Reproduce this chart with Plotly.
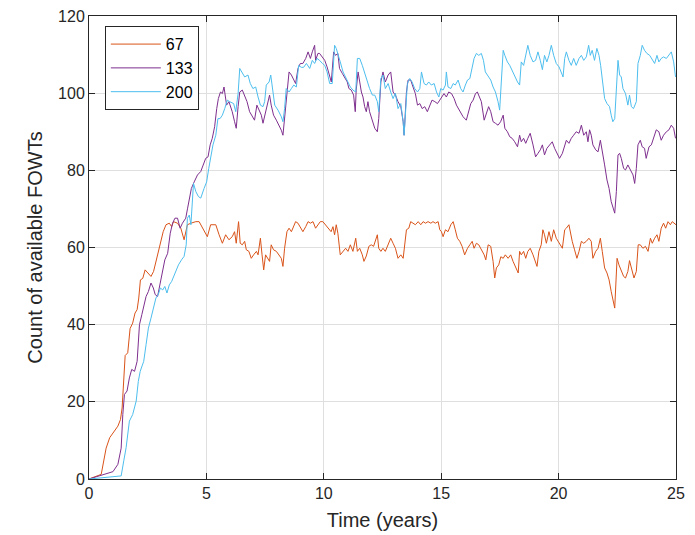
import plotly.graph_objects as go

# ---- data ----
t_67 = [0, 0.52, 0.73, 0.88, 1.23, 1.34, 1.41, 1.48, 1.54, 1.65, 1.75, 1.86, 1.96, 2.05, 2.12, 2.19, 2.29, 2.39, 2.5, 2.64,
        2.75, 2.85, 2.95, 3.06, 3.16, 3.28, 3.42, 3.52, 3.6, 3.77, 3.91, 4.05, 4.19, 4.34, 4.55, 4.69, 4.9, 5.04, 5.18, 5.4,
        5.54, 5.68, 5.82, 5.96, 6.1, 6.2, 6.27, 6.37, 6.44, 6.53, 6.63, 6.7, 6.81, 6.91, 7.01, 7.13, 7.2, 7.3, 7.37, 7.44,
        7.52, 7.62, 7.69, 7.76, 7.86, 7.98, 8.09, 8.19, 8.26, 8.33, 8.43, 8.52, 8.62, 8.72, 8.8, 8.9, 9.0, 9.11, 9.23, 9.33,
        9.43, 9.54, 9.65, 9.75, 9.85, 9.96, 10.08, 10.19, 10.31, 10.39, 10.46, 10.53, 10.6, 10.7, 10.82, 10.93, 11.03, 11.13,
        11.24, 11.36, 11.43, 11.53, 11.64, 11.71, 11.81, 11.92, 12.02, 12.12, 12.28, 12.34, 12.43, 12.52, 12.62, 12.74, 12.85,
        12.95, 13.05, 13.16, 13.28, 13.38, 13.45, 13.52, 13.62, 13.7, 13.8, 13.9, 14.02, 14.13, 14.23, 14.33, 14.44, 14.56,
        14.65, 14.75, 14.87, 14.94, 15.01, 15.08, 15.18, 15.29, 15.41, 15.51, 15.6, 15.69, 15.79, 15.89, 16.0, 16.12, 16.22,
        16.32, 16.4, 16.5, 16.6, 16.71, 16.83, 16.9, 17.0, 17.11, 17.21, 17.28, 17.35, 17.45, 17.54, 17.64, 17.73, 17.85,
        17.96, 18.06, 18.16, 18.28, 18.34, 18.41, 18.51, 18.6, 18.69, 18.79, 18.91, 19.02, 19.08, 19.16, 19.26, 19.33, 19.4,
        19.48, 19.59, 19.69, 19.79, 19.9, 20.02, 20.16, 20.26, 20.33, 20.44, 20.5, 20.58, 20.68, 20.78, 20.87, 20.97, 21.07,
        21.18, 21.29, 21.39, 21.46, 21.58, 21.68, 21.78, 21.86, 21.96, 22.06, 22.15, 22.24, 22.31, 22.39, 22.43, 22.49, 22.57,
        22.67, 22.77, 22.85, 22.95, 23.02, 23.12, 23.21, 23.31, 23.39, 23.48, 23.59, 23.7, 23.81, 23.91, 23.99, 24.09, 24.19,
        24.27, 24.37, 24.47, 24.56, 24.66, 24.76, 24.84, 24.94, 25.0]
v_67 = [0, 1.2, 8, 10.7, 13.7, 15.4, 18.4, 25, 32, 32.7, 39, 40.4, 43, 43.9, 46.9, 51.6, 52, 54.2, 53.4, 52.5,
        53.8, 56.4, 58.5, 62, 64.1, 65.9, 66.3, 65.4, 66.7, 66.3, 65, 62, 65.9, 66.3, 66.7, 66.7, 64.1, 62.8, 65.9, 65.9,
        63.3, 61.1, 63.3, 62, 62.8, 64.1, 61.1, 66.7, 61.1, 60.7, 61.6, 59.4, 59, 57.2, 58.1, 59, 58.1, 62.4, 58.1, 54.2,
        58.1, 57.2, 56.4, 60.7, 59.4, 59, 58.1, 57.2, 55.1, 59.8, 64.1, 65, 64.1, 65.4, 66.7, 66.3, 65.4, 64.1, 65.4, 66.7,
        66.3, 66.7, 65, 65.9, 66.7, 66.7, 65.9, 65, 64.1, 65.4, 63.3, 65.9, 63.7, 58.1, 59, 59.8, 59, 60.7,
        59, 62.4, 59, 59.8, 58.1, 56.4, 57.8, 60.3, 60.7, 60.3, 63.3, 59.8, 59, 59.8, 59, 60.7, 62.4,
        61.1, 59.8, 57.2, 58.1, 57.2, 61.6, 64.6, 65, 66.7, 66.3, 65.9, 66.7, 65.9, 66.7, 66.3, 66.7, 66.3,
        66.7, 66.3, 66.7, 64.6, 64.1, 62.8, 64.6, 64.1, 65.9, 66.7, 64.6, 62.4, 61.6, 60.3, 58.1, 59.8, 60.7,
        61.6, 59.8, 61.1, 60.7, 59.4, 58.1, 56.8, 60.7, 60.3, 56.4, 52.1, 54.7, 55.5, 57.6, 57.2, 58.1, 57.2,
        58.1, 56.4, 55.1, 53.4, 59, 58.1, 59, 57.2, 59, 59.8, 58.1, 56.4, 55.1, 59, 60.7, 64.6, 63.3,
        61.1, 64.1, 61.6, 64.6, 62.4, 61.1, 59.8, 64.6, 65, 65.9, 63.7, 61.6, 59.4, 57.2, 59, 61.6, 61.1,
        61.6, 62.4, 61.6, 57.2, 59, 59.8, 62.4, 59, 54.7, 53.4, 51.6, 48.6, 46.9, 44.3, 49.5, 57.2, 55.5,
        54.2, 52.5, 52.1, 53.8, 56.6, 54.2, 52.1, 53.8, 60.7, 60.7, 59.8, 60.3, 59, 62.4, 61.1, 62.4, 63.3,
        61.6, 65, 66.3, 65, 66.7, 65.9, 66.7, 66.3, 65.9]

t_133 = [0, 1.02, 1.23, 1.37, 1.44, 1.51, 1.62, 1.72, 1.82, 1.94, 2.05, 2.15, 2.25, 2.33, 2.43, 2.53, 2.64, 2.74, 2.82, 2.92,
         3.04, 3.14, 3.23, 3.35, 3.46, 3.56, 3.66, 3.77, 3.88, 3.98, 4.12, 4.2, 4.28, 4.36, 4.48, 4.62, 4.76, 4.87, 4.97, 5.07,
         5.16, 5.25, 5.35, 5.44, 5.51, 5.6, 5.68, 5.75, 5.86, 5.96, 6.1, 6.2, 6.27, 6.35, 6.42, 6.53, 6.63, 6.73, 6.84, 6.96,
         7.05, 7.15, 7.27, 7.34, 7.41, 7.52, 7.62, 7.69, 7.76, 7.86, 7.98, 8.09, 8.19, 8.26, 8.33, 8.43, 8.52, 8.62, 8.72, 8.8,
         8.9, 9.0, 9.11, 9.23, 9.33, 9.43, 9.51, 9.61, 9.65, 9.75, 9.82, 9.94, 10.04, 10.14, 10.25, 10.32, 10.42, 10.5, 10.6,
         10.67, 10.79, 10.89, 11.0, 11.07, 11.17, 11.27, 11.34, 11.38, 11.46, 11.53, 11.6, 11.67, 11.74, 11.81, 11.88, 11.95,
         12.02, 12.09, 12.17, 12.28, 12.34, 12.43, 12.52, 12.62, 12.74, 12.85, 12.95, 13.05, 13.16, 13.28, 13.38, 13.42,
         13.52, 13.59, 13.7, 13.8, 13.9, 13.99, 14.09, 14.19, 14.3, 14.41, 14.51, 14.61, 14.73, 14.84, 14.94, 15.01, 15.12,
         15.22, 15.32, 15.44, 15.55, 15.65, 15.79, 15.93, 16.07, 16.17, 16.26, 16.36, 16.46, 16.54, 16.64, 16.71, 16.83,
         16.93, 17.02, 17.11, 17.21, 17.31, 17.42, 17.53, 17.64, 17.71, 17.82, 17.92, 18.02, 18.13, 18.25, 18.34, 18.41,
         18.51, 18.6, 18.69, 18.79, 18.91, 19.02, 19.12, 19.22, 19.31, 19.4, 19.5, 19.62, 19.73, 19.83, 19.93, 20.04, 20.16,
         20.26, 20.33, 20.44, 20.54, 20.64, 20.75, 20.87, 20.97, 21.07, 21.18, 21.25, 21.32, 21.39, 21.46, 21.58, 21.68,
         21.78, 21.86, 21.96, 22.06, 22.15, 22.24, 22.31, 22.39, 22.46, 22.53, 22.6, 22.67, 22.77, 22.85, 22.95, 23.05,
         23.17, 23.24, 23.31, 23.38, 23.48, 23.56, 23.66, 23.73, 23.85, 23.95, 24.05, 24.16, 24.27, 24.37, 24.47, 24.59,
         24.7, 24.8, 24.9, 24.98]
v_133 = [0, 1.9, 3.8, 8, 16.7, 21.9, 22.8, 26.2, 28.4, 27.9, 30.5, 40, 42.6, 44.7, 47.3, 48.6, 50.8, 49.5, 47.8, 47.3,
         50.8, 53.8, 56.8, 58.5, 63.7, 66.3, 67.6, 67.6, 65, 66.3, 67.6, 70.2, 72.8, 75.3, 77, 78.8, 79.7, 81.4, 83.1, 83.5,
         86.6, 88.3, 91.3, 96, 98.6, 100.3, 99.9, 101.6, 96.9, 97.8, 95.2, 92.6, 90.9, 96.5, 100.3, 100.8, 99.5, 97.8, 95.2, 93.9,
         93, 96.9, 95.2, 94.3, 92.2, 95.2, 97.8, 99.5, 96.9, 94.3, 93, 91.7, 90.4, 89.1, 93.4, 99.9, 105.5, 104.7, 103.4, 102.5,
         106.4, 107.7, 107.7, 109, 110.7, 109, 110.7, 112.4, 108.5, 110.3, 110.3, 109.4, 108.5, 106.8, 104.7, 102.9, 110.7, 109.8, 110.3,
         106.4, 105.1, 104.2, 102.9, 101.2, 100.8, 99.5, 95.2, 100.8, 105.5, 102.9, 100.3, 99, 96.5, 95.2, 97.8, 95.2,
         93.9, 92.6, 90.9, 90, 93.4, 102.9, 105.5, 102.9, 104.7, 105.5, 100.3, 99.5, 97.8, 96.5, 92.6, 89.1,
         100.3, 103.4, 103.4, 101.6, 99.9, 96.9, 97.3, 96, 96.5, 95.2, 96.9, 98.2, 97.8, 97.3, 98.2, 99, 99.9,
         99, 100.3, 99.9, 98.6, 96.9, 95.2, 93.9, 93, 95.6, 97.3, 98.2, 99.9, 100.3, 99, 97.8, 93,
         94.7, 96.5, 95.2, 92.6, 92.2, 91.7, 92.6, 94.3, 90.9, 90, 88.7, 88.3, 87.4, 86.1, 89.1, 87.4,
         88.3, 87, 88.3, 89.6, 86.6, 83.5, 84.4, 85.3, 86.6, 84, 85.7, 86.6, 87.4, 85.7, 84.4, 83.1, 84.4,
         86.6, 87.8, 87, 88.3, 89.1, 90, 89.6, 91.7, 89.1, 90, 87.4, 90.5, 89.1, 86.6, 85.3, 84.8,
         87.8, 84.4, 81.4, 77.5, 75.3, 71.9, 70.2, 68.9, 74.5, 84, 84.4, 83.1, 80.5, 80.1, 81.4, 80.1,
         78.8, 76.6, 80.5, 86.6, 87.8, 86.1, 85.7, 83.1, 86.1, 86.6, 88.3, 90.5, 90, 87.8, 89.1, 90,
         90.5, 91.7, 90.9, 88.3]

t_200 = [0, 1.37, 1.48, 1.58, 1.72, 1.86, 2.01, 2.1, 2.18, 2.25, 2.33, 2.43, 2.53, 2.64, 2.74, 2.85, 2.95, 3.04, 3.14, 3.23,
         3.32, 3.42, 3.52, 3.6, 3.7, 3.81, 3.94, 4.05, 4.14, 4.19, 4.27, 4.34, 4.45, 4.55, 4.66, 4.76, 4.9, 5.01, 5.1, 5.18,
         5.28, 5.4, 5.49, 5.58, 5.68, 5.78, 5.89, 5.99, 6.16, 6.25, 6.35, 6.42, 6.53, 6.63, 6.77, 6.87, 6.98, 7.1, 7.2, 7.3,
         7.41, 7.48, 7.55, 7.67, 7.74, 7.81, 7.91, 8.05, 8.19, 8.26, 8.33, 8.4, 8.52, 8.62, 8.72, 8.83, 8.93, 9.04, 9.14, 9.26,
         9.4, 9.51, 9.61, 9.71, 9.82, 9.94, 10.04, 10.14, 10.25, 10.36, 10.46, 10.53, 10.6, 10.7, 10.82, 10.93, 11.03, 11.13,
         11.24, 11.36, 11.43, 11.53, 11.64, 11.74, 11.84, 11.95, 12.07, 12.17, 12.28, 12.34, 12.43, 12.52, 12.62, 12.74,
         12.85, 12.95, 13.05, 13.16, 13.28, 13.38, 13.42, 13.48, 13.56, 13.66, 13.76, 13.87, 13.99, 14.09, 14.16, 14.27,
         14.37, 14.47, 14.58, 14.7, 14.8, 14.9, 14.98, 15.08, 15.18, 15.22, 15.29, 15.41, 15.51, 15.6, 15.72, 15.83, 15.93,
         16.03, 16.12, 16.22, 16.32, 16.4, 16.5, 16.6, 16.71, 16.8, 16.88, 17.0, 17.11, 17.21, 17.31, 17.42, 17.49, 17.56,
         17.64, 17.71, 17.82, 17.92, 18.02, 18.13, 18.25, 18.34, 18.41, 18.51, 18.6, 18.69, 18.79, 18.91, 19.02, 19.12,
         19.22, 19.31, 19.4, 19.5, 19.59, 19.69, 19.79, 19.9, 20.02, 20.11, 20.19, 20.26, 20.33, 20.44, 20.54, 20.64, 20.75,
         20.87, 20.97, 21.07, 21.18, 21.28, 21.35, 21.43, 21.53, 21.63, 21.72, 21.79, 21.86, 21.96, 22.06, 22.17, 22.24,
         22.31, 22.39, 22.46, 22.53, 22.6, 22.67, 22.74, 22.85, 22.95, 23.02, 23.1, 23.19, 23.31, 23.38, 23.48, 23.56,
         23.66, 23.76, 23.88, 23.99, 24.09, 24.19, 24.27, 24.37, 24.47, 24.59, 24.7, 24.8, 24.9, 24.98]
v_200 = [0, 0.8, 4.7, 8.1, 15, 16.7, 20.2, 25.3, 27.9, 29.2, 30.5, 34.8, 39.1, 41.7, 44.3, 46.9, 47.8, 49.5, 49, 49.9,
         48.2, 50.3, 51.2, 52.5, 53.8, 55.5, 56.8, 57.7, 60.7, 67.6, 68.4, 65.9, 76.6, 74.5, 73.2, 72.8, 75.3, 77, 80.5, 83.1,
         86.6, 89.1, 93.4, 93.4, 94.3, 96, 98.2, 97.8, 97.3, 95.2, 99.9, 106.4, 105.1, 104.2, 104.7, 102.5, 101.2, 101.6, 99, 96.9,
         96.5, 97.8, 102.1, 102.9, 104.7, 101.2, 96.9, 95.6, 93.9, 92.6, 96, 101.2, 100.3, 101.2, 102.1, 101.6, 107.2, 106.7, 106.7, 107.7,
         106.4, 108.5, 107.7, 109, 108.5, 107.7, 107.2, 105.5, 102.5, 102.5, 112.4, 111.6, 110.3, 108.1, 105.5, 104.2, 102.9, 101.6,
         100.8, 100.3, 109, 109, 107.2, 105.1, 103.4, 101.2, 99.5, 99.5, 97.8, 95.2, 103.8, 104.7, 101.2, 102.5,
         100.3, 98.6, 100, 96, 97.3, 92.6, 89.1, 94.3, 102.5, 103.8, 102.9, 101.2, 100.3, 101.2, 105.5, 102.5,
         102.1, 102.9, 102.1, 102.5, 100.3, 99, 101.2, 100.8, 102.1, 105.5, 101.6, 101.2, 102.5, 102.1, 103.4, 101.2, 100.3,
         102.1, 103.4, 103.8, 106.4, 109, 110.3, 109.8, 110.3, 108.5, 105.5, 104.2, 103.4, 101.6, 100.3, 97.8, 95.6, 102.9,
         111.1, 109.8, 108.1, 107.2, 105.9, 104.2, 102.9, 102.1, 108.1, 107.2, 109.8, 112.4, 109.8, 108.1, 108.5, 110.7,
         108.5, 106.1, 109.8, 108.1, 109.8, 112.4, 109.8, 107.7, 106.8, 105.5, 104.2, 109, 110.7, 108.5, 107.2, 109, 107.2,
         109, 109.8, 108.5, 109.4, 112.4, 109.8, 111.1, 108.5, 111.6, 109.8, 107.2, 102.9, 98.6, 97.3, 96.5, 94.3,
         92.6, 93.4, 102.9, 108.5, 104.7, 104.2, 101.2, 99.9, 96.9, 99.5, 96.5, 96, 97.8, 107.7, 109.8, 112.4,
         111.1, 110.3, 109.8, 108.5, 107.7, 109.8, 108.1, 109, 109.4, 109, 109.8, 110.7, 108.1, 104.2]

series_names = ["67", "133", "200"]
series_colors = ["#D95319", "#7E2F8E", "#4DBEEE"]
x_ticks = [0, 5, 10, 15, 20, 25]
y_ticks = [0, 20, 40, 60, 80, 100, 120]

FONT = "Liberation Sans, Arial, sans-serif"

fig = go.Figure()
for name, color, t, v in zip(series_names, series_colors, [t_67, t_133, t_200], [v_67, v_133, v_200]):
    fig.add_trace(go.Scatter(x=t, y=v, mode="lines", name=name,
                             line=dict(color=color, width=1)))

axis_common = dict(showline=True, linecolor="#262626", linewidth=1, mirror="ticks",
                   ticks="inside", ticklen=6, tickcolor="#262626", automargin=False,
                   showgrid=True, gridcolor="#DFDFDF", gridwidth=1, zeroline=False,
                   tickfont=dict(family=FONT, size=16, color="#262626"))

fig.update_xaxes(range=[0, 25], tickvals=x_ticks,
                 title=dict(text="Time (years)", standoff=11,
                            font=dict(family=FONT, size=20, color="#262626")),
                 **axis_common)
fig.update_yaxes(range=[0, 120], tickvals=y_ticks,
                 title=dict(text="Count of available FOWTs", standoff=10,
                            font=dict(family=FONT, size=20, color="#262626")),
                 **axis_common)

fig.update_layout(
    width=695, height=535,
    margin=dict(l=89, r=19, t=16, b=56),
    plot_bgcolor="white", paper_bgcolor="white",
    legend=dict(x=0.027, y=0.978, xanchor="left", yanchor="top",
                bgcolor="white", bordercolor="#262626", borderwidth=1,
                font=dict(family=FONT, size=16, color="#000000"),
                tracegroupgap=0, itemwidth=50),
)

fig.write_html("out.html", config={"displayModeBar": False},
               post_script="document.body.style.margin='0px';document.body.style.overflow='hidden';")
